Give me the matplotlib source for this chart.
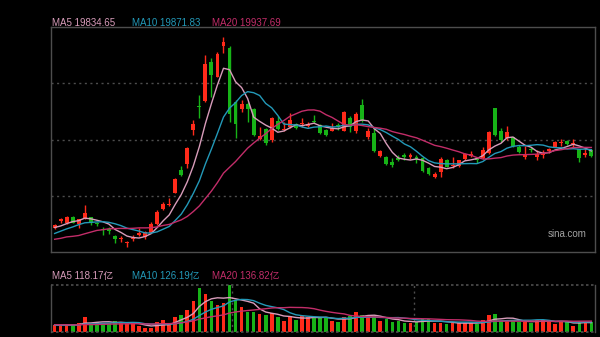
import numpy as np
import matplotlib
matplotlib.use("Agg")
import matplotlib.pyplot as plt

# Daily index candles (open / high / low / close) and turnover (亿)
opens = [17539, 17748, 17670, 17867, 17640, 17820, 17849, 17688, 17491, 17491,
         17290, 17192, 17068, 17190, 17330, 17270, 17389, 17649, 18089, 18210,
         18585, 19264, 19450, 20460, 21170, 21327, 22502, 22053, 22971, 22903,
         21306, 21079, 21237, 21079, 20182, 20481, 20161, 20738, 20460, 20558,
         20640, 20628, 20590, 20738, 20609, 20460, 20430, 20609, 20439, 20810,
         20439, 21207, 20259, 20379, 19682, 19644, 19512, 19620, 19700, 19650,
         19640, 19622, 19324, 19063, 19213, 19563, 19370, 19383, 19584, 19680,
         19614, 19614, 19763, 21108, 20439, 20212, 20242, 19960, 19640, 19900,
         19660, 19700, 19820, 19960, 20060, 20140, 20030, 19890, 19700, 19850]

highs = [17650, 17830, 17880, 17900, 17800, 18217, 17870, 17718, 17550, 17568,
         17320, 17290, 17141, 17310, 17521, 17440, 17718, 18068, 18316, 18418,
         19015, 19383, 19950, 20759, 21506, 22702, 22612, 22792, 23241, 22971,
         21350, 21357, 21297, 21109, 20558, 20520, 20850, 20878, 20708, 20959,
         20660, 20810, 20710, 20908, 20640, 20490, 20678, 20660, 21037, 20878,
         21007, 21378, 20511, 20558, 19862, 19682, 19614, 19700, 19780, 19760,
         19720, 19660, 19340, 19200, 19661, 19580, 19660, 19570, 19770, 19840,
         19640, 19960, 20430, 21130, 20511, 20579, 20260, 20000, 19981, 19940,
         19860, 19860, 19910, 20120, 20190, 20170, 20190, 19900, 19940, 19880]

lows = [17490, 17690, 17650, 17670, 17520, 17800, 17620, 17590, 17320, 17350,
        17072, 17120, 16970, 17141, 17300, 17192, 17370, 17619, 18068, 18190,
        18567, 19084, 19330, 20310, 20818, 21300, 21455, 22044, 22753, 20700,
        20221, 21007, 20708, 20280, 20161, 20011, 20110, 20460, 20440, 20511,
        20480, 20560, 20560, 20660, 20340, 20280, 20420, 20460, 20420, 20409,
        20379, 20708, 20182, 19811, 19644, 19413, 19345, 19520, 19560, 19600,
        19480, 19190, 19110, 19030, 19063, 19340, 19315, 19350, 19560, 19660,
        19464, 19600, 19740, 20280, 20110, 20161, 19950, 19770, 19600, 19800,
        19560, 19620, 19780, 19940, 19980, 20010, 19930, 19500, 19660, 19640]

closes = [17612.10, 17798.73, 17860.00, 17692.45, 17786.32, 17989.07, 17691.97, 17651.41, 17457.34, 17444.30,
          17196.96, 17234.09, 17108.71, 17240.39, 17369.09, 17422.12, 17660.02, 18013.16, 18258.57, 18247.11,
          19000.56, 19129.10, 19924.58, 20632.30, 21133.68, 22443.73, 22113.51, 22736.87, 23099.78, 20926.79,
          20637.24, 21251.98, 21092.87, 20318.79, 20286.84, 20079.11, 20804.11, 20478.46, 20498.95, 20760.15,
          20530.00, 20676.00, 20650.00, 20701.08, 20380.64, 20317.33, 20506.43, 20567.52, 21006.97, 20538.38,
          20953.34, 20728.19, 20426.93, 19846.88, 19823.46, 19435.81, 19426.34, 19576.61, 19663.67, 19705.01,
          19601.11, 19229.97, 19150.99, 19159.20, 19603.13, 19366.96, 19423.61, 19550.29, 19746.32, 19742.46,
          19560.43, 19865.85, 20414.09, 20311.28, 20155.05, 20397.05, 19971.24, 19795.49, 19700.43, 19864.55,
          19752.51, 19720.70, 19883.13, 20098.29, 20090.46, 20041.42, 20059.95, 19623.32, 19760.27, 19688.29]

volumes = [89, 89, 89, 89, 110, 183, 98, 129, 117, 117,
           138, 110, 98, 110, 80, 49, 49, 122, 146, 101,
           183, 211, 272, 376, 537, 473, 386, 333, 354, 573,
           400, 309, 251, 244, 223, 211, 232, 187, 142, 193,
           150, 199, 183, 183, 183, 171, 142, 129, 183, 199,
           251, 211, 183, 199, 142, 159, 129, 142, 117, 117,
           129, 159, 159, 117, 117, 98, 117, 113, 117, 117,
           98, 145, 215, 225, 140, 140, 140, 127, 127, 117.5,
           150, 155, 135, 100, 131.05, 129, 77, 129, 129, 126.85]

# Sessions before the first candle, used only to seed the moving averages
prior_closes = [17238, 17003, 17344, 17304, 16945, 16698, 16647, 17031, 16891, 17090,
                17111, 17174, 17113, 17109, 17430, 17569, 17511, 17391, 17641]
prior_volumes = [96, 88, 102, 94, 110, 121, 98, 85, 79, 92,
                 84, 76, 81, 88, 97, 90, 83, 86, 92]

RED = "#ff2a1a"
GREEN = "#17b317"
C_MA5 = "#d89cba"
C_MA10 = "#2399b8"
C_MA20 = "#c22d69"
FRAME = "#4d4d4d"
FONT = ["Liberation Sans", "Noto Sans CJK SC"]


def moving_average(seq, n, lead):
    full = np.concatenate([np.asarray(lead, float), np.asarray(seq, float)])
    out = np.convolve(full, np.ones(n) / n, mode="valid")
    return out[-len(seq):]


o = np.array(opens, float)
h = np.array(highs, float)
l = np.array(lows, float)
c = np.array(closes, float)
v = np.array(volumes, float)
x = np.arange(len(c))
cols = np.where(c >= o, RED, GREEN)

ma5 = moving_average(c, 5, prior_closes)
ma10 = moving_average(c, 10, prior_closes)
ma20 = moving_average(c, 20, prior_closes)
vma5 = moving_average(v, 5, prior_volumes)
vma10 = moving_average(v, 10, prior_volumes)
vma20 = moving_average(v, 20, prior_volumes)

W, H = 600, 337
fig = plt.figure(figsize=(W / 100, H / 100), dpi=100, facecolor="black")

ax = fig.add_axes([51 / W, 1 - 252 / H, 544 / W, 225 / H], facecolor="black")
axv = fig.add_axes([51 / W, 1 - 332.3 / H, 544 / W, 47.3 / H], facecolor="black")

# --- price panel ---
ax.vlines(x, l, h, colors=cols, linewidth=1.0, zorder=2)
body = np.maximum(np.abs(c - o), 28)
ax.bar(x, body, bottom=np.minimum(o, c), width=0.64, color=cols, linewidth=0, zorder=3)
ax.plot(x, ma5, color=C_MA5, lw=1.0, zorder=4)
ax.plot(x, ma10, color=C_MA10, lw=1.0, zorder=4)
ax.plot(x, ma20, color=C_MA20, lw=1.0, zorder=4)
ax.set_xlim(-0.6, len(c) - 0.4)
ax.set_ylim(16812, 23540)
for f in (0.25, 0.5, 0.75):
    ax.plot([0, 1], [f, f], transform=ax.transAxes, color=FRAME, lw=1.0,
            linestyle=(0, (1.5, 2.5)), zorder=1)
for s in ax.spines.values():
    s.set_color(FRAME)
    s.set_linewidth(1.0)
ax.set_xticks([])
ax.set_yticks([])
ax.text(0.985, 0.08, "sina.com", transform=ax.transAxes, ha="right", va="center",
        color="#a3a3a3", fontsize=7, family=FONT)

# --- volume panel ---
axv.bar(x, v, width=0.6, color=cols, linewidth=0, zorder=3)
axv.plot(x, vma5, color=C_MA5, lw=1.0, zorder=4)
axv.plot(x, vma10, color=C_MA10, lw=1.0, zorder=4)
axv.plot(x, vma20, color=C_MA20, lw=1.0, zorder=4)
axv.set_xlim(-0.6, len(c) - 0.4)
axv.set_ylim(0, 577)
for f in (1 / 3, 2 / 3):
    axv.plot([f, f], [0, 1], transform=axv.transAxes, color=FRAME, lw=1.0,
             linestyle=(0, (1.5, 2.5)), zorder=3.5)
for f in (0, 1):
    axv.plot([0, 1], [f, f], transform=axv.transAxes, color=FRAME, lw=1.2,
             linestyle=(0, (1.5, 1.5)), zorder=5, clip_on=False)
axv.spines["top"].set_visible(False)
axv.spines["bottom"].set_visible(False)
for side in ("left", "right"):
    axv.spines[side].set_color(FRAME)
    axv.spines[side].set_linewidth(1.0)
axv.set_xticks([])
axv.set_yticks([])

# --- legends ---
price_labels = [(f"MA5 {ma5[-1]:.2f}", C_MA5, 52),
                (f"MA10 {ma10[-1]:.2f}", C_MA10, 132),
                (f"MA20 {ma20[-1]:.2f}", C_MA20, 212)]
for txt, col, px in price_labels:
    fig.text(px / W, 1 - 22.7 / H, txt, color=col, fontsize=7, family=FONT,
             ha="left", va="center")

vol_labels = [(f"MA5 {vma5[-1]:.2f}亿", C_MA5, 52),
              (f"MA10 {vma10[-1]:.2f}亿", C_MA10, 132),
              (f"MA20 {vma20[-1]:.2f}亿", C_MA20, 212)]
for txt, col, px in vol_labels:
    fig.text(px / W, 1 - 275.7 / H, txt, color=col, fontsize=7, family=FONT,
             ha="left", va="center")

fig.savefig("out.png", dpi=100, facecolor="black")
